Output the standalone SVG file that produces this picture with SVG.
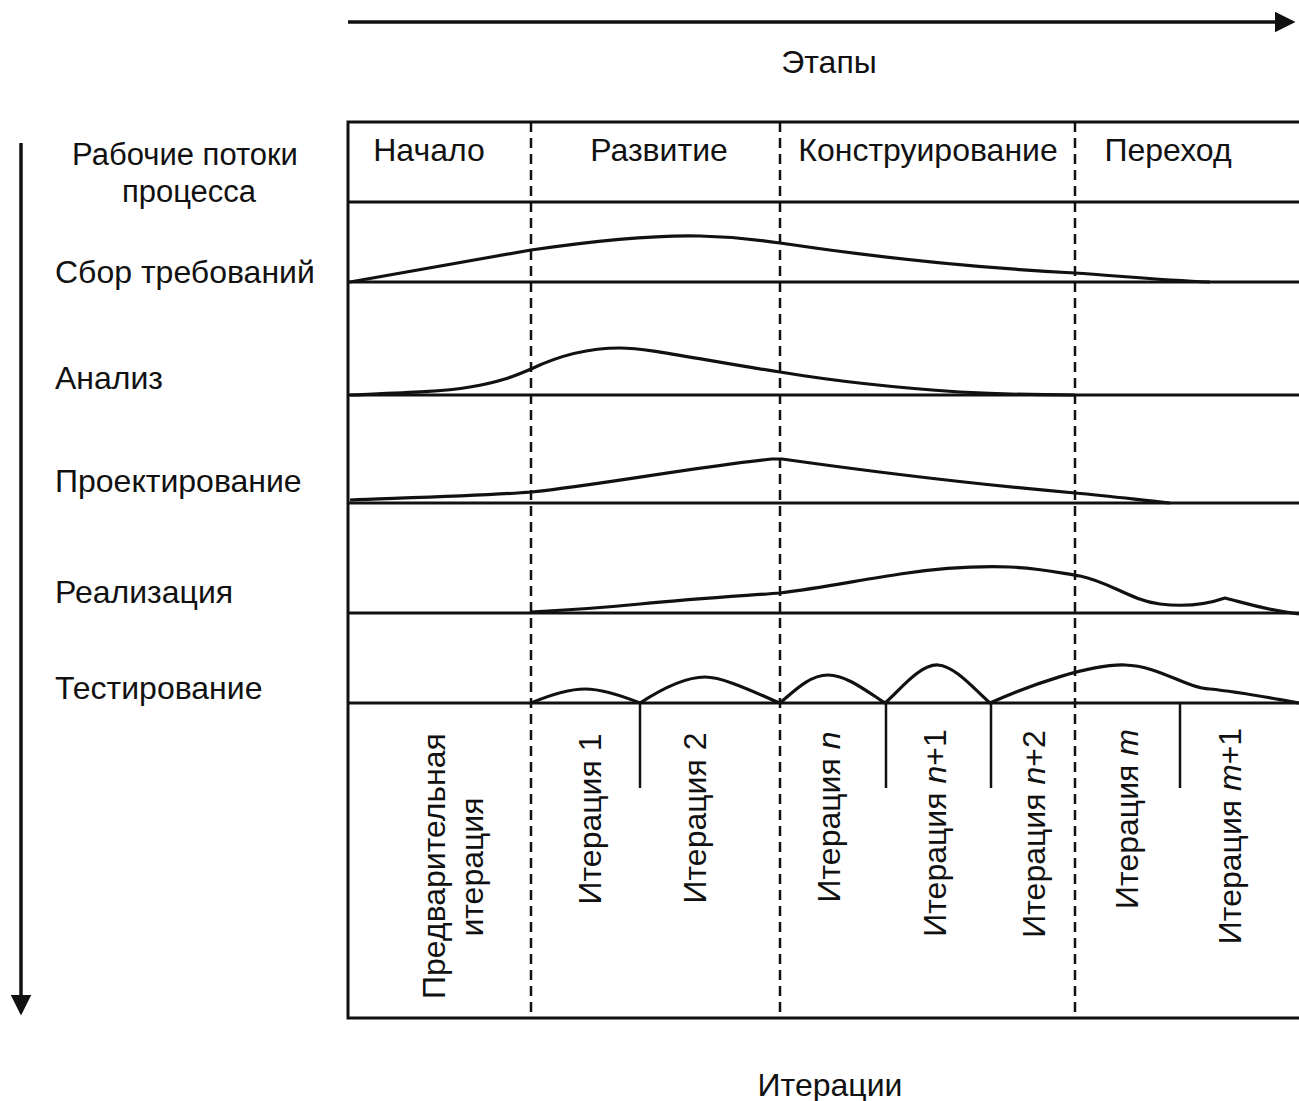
<svg xmlns="http://www.w3.org/2000/svg" width="1299" height="1101" viewBox="0 0 1299 1101">
<style>
text{font-family:"Liberation Sans",Arial,sans-serif;font-size:32px;fill:#111}
.frame{stroke:#111;stroke-width:3;fill:none}
.base{stroke:#111;stroke-width:3;fill:none}
.curve{stroke:#111;stroke-width:3.2;fill:none;stroke-linejoin:round}
.dash{stroke:#111;stroke-width:2.5;stroke-dasharray:10 6;fill:none}
.tick{stroke:#111;stroke-width:2.5;fill:none}
.vt{text-anchor:middle;dominant-baseline:central}
.hd{font-size:31px;text-anchor:middle}
</style>
<defs>
<marker id="ah" markerWidth="6" markerHeight="6" refX="5" refY="3" orient="auto" markerUnits="strokeWidth">
<path d="M0,0 L6,3 L0,6 Z" fill="#111"/>
</marker>
</defs>
<rect width="1299" height="1101" fill="#fff"/>

<g id="connectors">
<line x1="348" y1="22" x2="1292" y2="22" stroke="#111" stroke-width="3.5" marker-end="url(#ah)"/>
<line x1="21" y1="143" x2="21" y2="1012" stroke="#111" stroke-width="3.5" marker-end="url(#ah)"/>
</g>

<g id="axis-labels">
<text x="829" y="73" text-anchor="middle">Этапы</text>
<text x="830" y="1096" text-anchor="middle">Итерации</text>
</g>

<g id="frame">
<path class="frame" d="M1299,122 H348 V1018 H1299"/>
<line class="base" x1="348" y1="202" x2="1299" y2="202"/>
<line class="base" x1="348" y1="282" x2="1299" y2="282"/>
<line class="base" x1="348" y1="395" x2="1299" y2="395"/>
<line class="base" x1="348" y1="503" x2="1299" y2="503"/>
<line class="base" x1="348" y1="613" x2="1299" y2="613"/>
<line class="base" x1="348" y1="703" x2="1299" y2="703"/>
<line class="dash" x1="531" y1="122" x2="531" y2="1018"/>
<line class="dash" x1="780" y1="122" x2="780" y2="1018"/>
<line class="dash" x1="1075" y1="122" x2="1075" y2="1018"/>
</g>

<g id="phases">
<text x="429" y="161" text-anchor="middle">Начало</text>
<text x="659" y="161" text-anchor="middle">Развитие</text>
<text x="928" y="161" text-anchor="middle">Конструирование</text>
<text x="1168" y="161" text-anchor="middle">Переход</text>
</g>

<g id="workflows">
<text class="hd" x="185" y="165">Рабочие потоки</text>
<text class="hd" x="189" y="202">процесса</text>
<text x="55" y="283">Сбор требований</text>
<text x="55" y="389">Анализ</text>
<text x="55" y="492">Проектирование</text>
<text x="55" y="603">Реализация</text>
<text x="55" y="699">Тестирование</text>
</g>

<g id="curves">
<path id="c-req" class="curve" d="M350,282 L531,250 C600,240 660,235 700,236 C740,237 760,240 780,243 C880,258 980,268 1075,273 C1120,276 1160,280 1210,282"/>
<path id="c-analysis" class="curve" d="M350,395 C400,393 440,392 470,387 C500,382 515,376 531,369 C560,355 590,348 620,348 C650,348 700,360 780,372 C840,382 900,388 960,392 C1000,394 1040,395 1075,395"/>
<path id="c-design" class="curve" d="M350,500 C400,498 480,496 531,492 C600,485 700,466 772,459 L782,459 C860,470 960,483 1075,493 C1110,496 1140,500 1170,503"/>
<path id="c-impl" class="curve" d="M531,612 C570,610 610,607 640,604 C700,598 740,596 780,593 C820,588 860,580 900,574 C940,568 980,566 1010,567 C1040,568 1060,573 1080,576 C1110,582 1130,600 1160,604 C1185,607 1205,605 1225,598 C1245,603 1265,610 1299,614"/>
<path id="c-test" class="curve" d="M531,703 C550,695 570,689 585,689 C600,689 620,695 640,703 C660,690 685,677 705,677 C725,677 760,695 780,703 C795,690 810,675 828,675 C846,675 865,690 885,703 C900,690 920,664 938,665 C955,666 975,690 990,703 C1030,685 1090,664 1125,665 C1160,666 1185,688 1210,689 C1240,692 1270,698 1299,703"/>
</g>

<g id="iteration-ticks">
<line class="tick" x1="640" y1="703" x2="640" y2="788"/>
<line class="tick" x1="886" y1="703" x2="886" y2="788" stroke-width="3.5"/>
<line class="tick" x1="991" y1="703" x2="991" y2="788"/>
<line class="tick" x1="1180" y1="703" x2="1180" y2="788"/>
</g>

<g id="iterations">
<text class="vt" transform="translate(434,866) rotate(-90)">Предварительная</text>
<text class="vt" transform="translate(472,867) rotate(-90)">итерация</text>
<text class="vt" transform="translate(590,819) rotate(-90)">Итерация 1</text>
<text class="vt" transform="translate(695,818) rotate(-90)">Итерация 2</text>
<text class="vt" transform="translate(829,817) rotate(-90)">Итерация <tspan font-style="italic">n</tspan></text>
<text class="vt" transform="translate(935,833) rotate(-90)">Итерация <tspan font-style="italic">n</tspan>+1</text>
<text class="vt" transform="translate(1034,834) rotate(-90)">Итерация <tspan font-style="italic">n</tspan>+2</text>
<text class="vt" transform="translate(1127,819) rotate(-90)">Итерация <tspan font-style="italic">m</tspan></text>
<text class="vt" transform="translate(1230,836) rotate(-90)">Итерация <tspan font-style="italic">m</tspan>+1</text>
</g>
</svg>
